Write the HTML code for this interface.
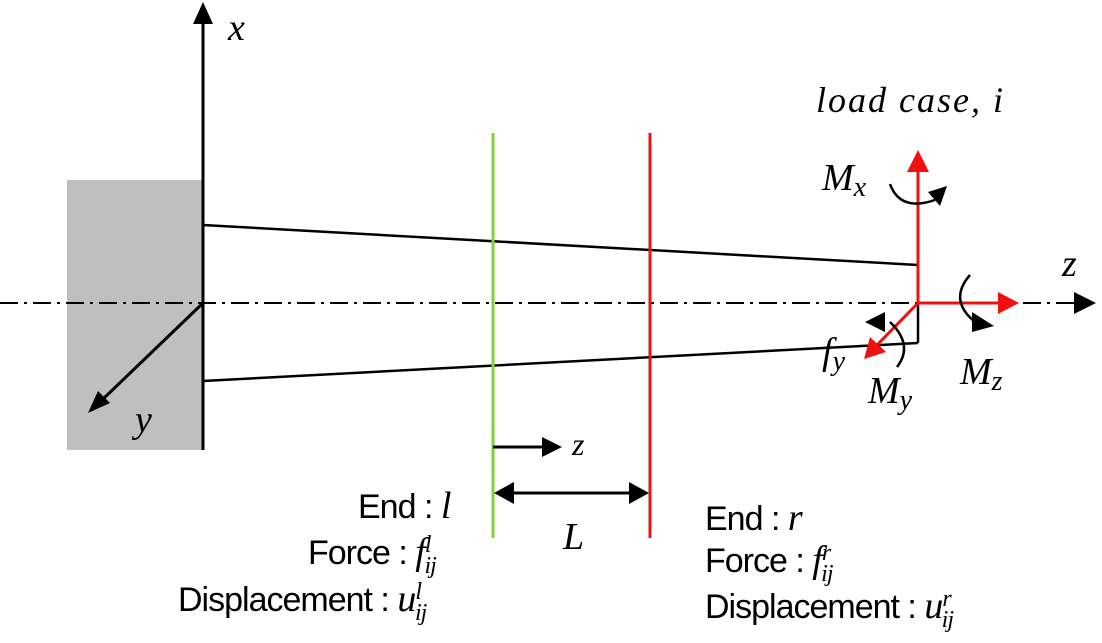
<!DOCTYPE html>
<html><head><style>body{margin:0;background:#fff}svg{display:block}</style></head><body>
<svg width="1102" height="643" viewBox="0 0 1102 643" xmlns="http://www.w3.org/2000/svg">
<rect x="67" y="180" width="136" height="270" fill="#bfbfbf"/>
<line x1="203" y1="450" x2="203" y2="22" stroke="#000" stroke-width="3"/>
<path d="M193,24 L203,2 L213,24 z" fill="#000"/>
<line x1="203" y1="225" x2="918" y2="265" stroke="#000" stroke-width="2.5"/>
<line x1="203" y1="381" x2="918" y2="343" stroke="#000" stroke-width="2.5"/>
<line x1="918" y1="343" x2="918" y2="303" stroke="#000" stroke-width="2.5"/>
<line x1="0" y1="303" x2="1075" y2="303" stroke="#000" stroke-width="2" stroke-dasharray="18,6,3,6"/>
<path d="M1074,292 L1096,303 L1074,314 z" fill="#000"/>
<line x1="203" y1="303" x2="102" y2="400" stroke="#000" stroke-width="3"/>
<path d="M88,413 L98,391 L110,403 z" fill="#000"/>
<line x1="493" y1="133" x2="493" y2="538" stroke="#7ed23a" stroke-width="3"/>
<line x1="650" y1="133" x2="650" y2="538" stroke="#e8141a" stroke-width="3"/>
<line x1="493" y1="447" x2="545" y2="447" stroke="#000" stroke-width="3"/>
<path d="M542,437 L562,447 L542,457 z" fill="#000"/>
<line x1="510" y1="493" x2="633" y2="493" stroke="#000" stroke-width="3"/>
<path d="M494,493 L514,482 L514,504 z" fill="#000"/>
<path d="M649,493 L629,482 L629,504 z" fill="#000"/>
<line x1="918" y1="303" x2="918" y2="170" stroke="#f01010" stroke-width="3"/>
<path d="M907,172 L918,150 L929,172 z" fill="#f01010"/>
<line x1="918" y1="303" x2="1000" y2="303" stroke="#f01010" stroke-width="3"/>
<path d="M998,292 L1019,303 L998,314 z" fill="#f01010"/>
<line x1="918" y1="303" x2="876" y2="346" stroke="#f01010" stroke-width="3"/>
<path d="M864,359 L870,337 L886,352 z" fill="#f01010"/>
<path d="M890,184 Q900,212 935,200" fill="none" stroke="#000" stroke-width="2.5"/>
<path d="M928,192 L947,186 L940,206 z" fill="#000"/>
<path d="M970,275 Q948,300 975,322" fill="none" stroke="#000" stroke-width="2.5"/>
<path d="M972,312 L994,326 L972,332 z" fill="#000"/>
<path d="M897,367 Q914,345 890,322" fill="none" stroke="#000" stroke-width="2.5"/>
<path d="M865,322 L885,312 L885,332 z" fill="#000"/>
<g font-family="Liberation Serif, serif" font-style="italic" font-size="38" fill="#000">
<text x="228" y="40">x</text>
<text x="135" y="432">y</text>
<text x="1062" y="276">z</text>
<text x="816" y="112" font-size="36" letter-spacing="2">load case, i</text>
<text x="822" y="190">M<tspan font-size="28" dy="6">x</tspan></text>
<text x="822" y="364">f<tspan font-size="28" dy="6">y</tspan></text>
<text x="868" y="403">M<tspan font-size="28" dy="6">y</tspan></text>
<text x="960" y="384">M<tspan font-size="28" dy="6">z</tspan></text>
<text x="572" y="455" font-size="32">z</text>
<text x="563" y="549">L</text>
</g>
<g font-family="Liberation Sans, sans-serif" font-size="34" fill="#000" letter-spacing="-1">
<text x="358" y="518">End : <tspan font-family="Liberation Serif, serif" font-style="italic" font-size="38">l</tspan></text>
<text x="308" y="564">Force : <tspan font-family="Liberation Serif, serif" font-style="italic" font-size="38">f<tspan font-size="24" dy="-12">l</tspan><tspan font-size="24" dx="-6" dy="21">ij</tspan></tspan></text>
<text x="178" y="611">Displacement : <tspan font-family="Liberation Serif, serif" font-style="italic" font-size="38">u<tspan font-size="24" dy="-12">l</tspan><tspan font-size="24" dx="-6" dy="21">ij</tspan></tspan></text>
<text x="705" y="530">End : <tspan font-family="Liberation Serif, serif" font-style="italic" font-size="38">r</tspan></text>
<text x="705" y="572">Force : <tspan font-family="Liberation Serif, serif" font-style="italic" font-size="38">f<tspan font-size="24" dy="-12">r</tspan><tspan font-size="24" dx="-9" dy="21">ij</tspan></tspan></text>
<text x="705" y="618">Displacement : <tspan font-family="Liberation Serif, serif" font-style="italic" font-size="38">u<tspan font-size="24" dy="-12">r</tspan><tspan font-size="24" dx="-9" dy="21">ij</tspan></tspan></text>
</g>
</svg>
</body></html>
